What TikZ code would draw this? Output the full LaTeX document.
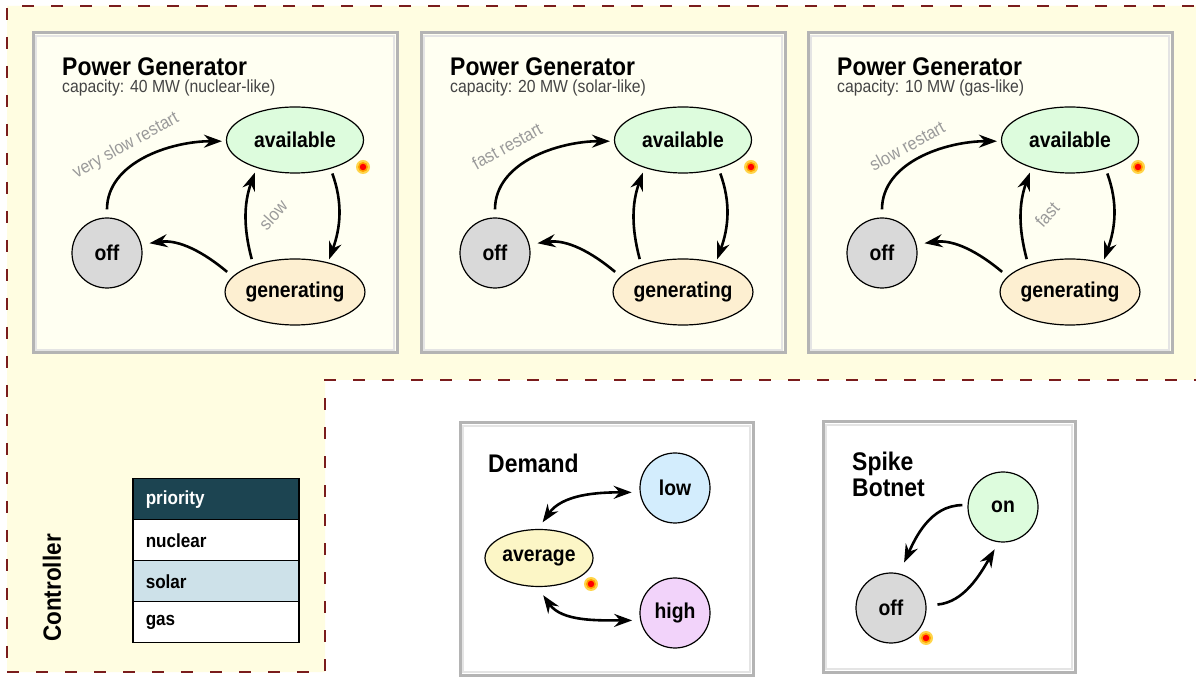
\documentclass[tikz,border=0pt]{standalone}
\usepackage{fontspec}
\setmainfont[FakeStretch=0.9]{Liberation Sans}
\usetikzlibrary{arrows.meta,shapes.geometric}
\definecolor{bgyellow}{HTML}{FFFDE1}
\definecolor{boxfill}{HTML}{FFFFF2}
\definecolor{boxouter}{HTML}{B4B4B4}
\definecolor{boxinner}{HTML}{E4E4E4}
\definecolor{availfill}{HTML}{DDFCDD}
\definecolor{genfill}{HTML}{FDEFD1}
\definecolor{offfill}{HTML}{D9D9D9}
\definecolor{lowfill}{HTML}{D3EDFD}
\definecolor{highfill}{HTML}{F2D3FA}
\definecolor{avgfill}{HTML}{FCF6C6}
\definecolor{dashred}{HTML}{7A1C1C}
\definecolor{lblgray}{HTML}{9A9A9A}
\definecolor{capgray}{HTML}{444444}
\definecolor{priodark}{HTML}{1C4451}
\definecolor{solarfill}{HTML}{CDE1E9}
\definecolor{dotyellow}{HTML}{FFD54A}
\definecolor{dotorange}{HTML}{FFA000}
\tikzset{
  boxo/.style={draw=boxouter, line width=3pt},
  boxi/.style={draw=boxinner, line width=2pt},
  title/.style={anchor=base west, inner sep=0pt, font=\bfseries\fontsize{25.5}{27}\selectfont},
  capt/.style={anchor=base west, inner sep=0pt, text=capgray, font=\fontsize{17.5}{20}\selectfont},
  st/.style={draw=black, line width=1.2pt, inner sep=0pt, font=\bfseries\fontsize{21.5}{24}\selectfont},
  ell/.style={st, ellipse, minimum width=137pt, minimum height=66pt},
  ellsm/.style={st, ellipse, minimum width=108pt, minimum height=57pt},
  circ/.style={st, circle, minimum size=70pt},
  tr/.style={-{Stealth[length=18pt,width=13pt,inset=6pt]}, line width=2.6pt},
  trb/.style={{Stealth[length=18pt,width=13pt,inset=6pt]}-{Stealth[length=18pt,width=13pt,inset=6pt]}, line width=2.6pt},
  lbl/.style={text=lblgray, inner sep=0pt, font=\fontsize{18}{20}\selectfont},
  cell/.style={draw=black, line width=1.5pt, anchor=north west, minimum height=41pt,
     text width=140pt, inner xsep=13pt, align=left, font=\bfseries\fontsize{19}{21}\selectfont},
  dotY/.style={circle, fill=dotyellow, minimum size=14pt, inner sep=0pt},
  dotO/.style={circle, fill=dotorange, minimum size=10pt, inner sep=0pt},
  dotR/.style={circle, fill=red, minimum size=6.5pt, inner sep=0pt},
}
\newcommand\hotdot[2]{%
  \node[dotY] (#1y) at (#2) {};
  \node[dotO] (#1o) at (#2) {};
  \node[dotR] (#1r) at (#2) {};}
\newcommand\powergen[7]{%
\begin{scope}[xshift=#2]
  \draw[boxo, fill=boxfill] (33,324) rectangle (397,644);
  \draw[boxi] (36,327) rectangle (394,641);
  \node[title] (#1title) at (62,601) {Power Generator};
  \node[capt] (#1cap) at (62,584) {#3};
  \node[ell, fill=availfill] (#1avail) at (295,537) {available};
  \node[ell, fill=genfill] (#1gen) at (295,385) {generating};
  \node[circ, fill=offfill] (#1off) at (107,424) {off};
  \draw[tr, shorten <=8pt, shorten >=4pt] (#1off.90) to[out=90,in=180] (#1avail.181);
  \draw[tr, shorten <=5pt, shorten >=3pt] (#1avail.-39) to[out=-70,in=70] (#1gen.42);
  \draw[tr, shorten <=6pt, shorten >=5pt] (#1gen.147) to[out=105,in=-110] (#1avail.216);
  \draw[tr, shorten <=7pt, shorten >=8pt] (#1gen.166) to[out=140,in=8] (#1off.14);
  \node[lbl, rotate=29] (#1la) at (#5,531) {#4};
  \node[lbl, rotate=48] (#1lb) at (#7,462) {#6};
  \hotdot{#1dot}{363,510}
\end{scope}}
\begin{document}
\begin{tikzpicture}[x=1pt,y=1pt]
\useasboundingbox (0,0) rectangle (1196,677);
\clip (0,0) rectangle (1196,677);
\fill[white] (0,0) rectangle (1196,677);
% controller region
\draw[dashred, line width=1.5pt, dash pattern=on 12pt off 17pt, fill=bgyellow]
  (7,5) -- (325,5) -- (325,297) -- (1210,297) -- (1210,671) -- (7,671) -- cycle;
\powergen{a}{0pt}{capacity: 40 MW (nuclear-like)}{very slow restart}{126}{slow}{273}
\powergen{b}{388pt}{capacity: 20 MW (solar-like)}{fast restart}{119}{}{272}
\powergen{c}{775pt}{capacity: 10 MW (gas-like)}{slow restart}{132}{fast}{272}
% controller
\node[font=\bfseries\fontsize{25}{27}\selectfont, rotate=90, inner sep=0pt] (ctrl) at (52,89) {Controller};
\node[cell, fill=priodark, text=white] (tprio) at (132,199) {priority};
\node[cell, fill=white] (tnuc) at (132,158) {nuclear};
\node[cell, fill=solarfill] (tsol) at (132,117) {solar};
\node[cell, fill=white] (tgas) at (132,76) {gas};
% demand
\draw[boxo, fill=white] (460,2) rectangle (753,254);
\draw[boxi] (463,5) rectangle (750,251);
\node[title] (dtitle) at (488,204) {Demand};
\node[circ, fill=lowfill] (low) at (675,189) {low};
\node[circ, fill=highfill] (high) at (675,64) {high};
\node[ellsm, fill=avgfill] (avg) at (539,119) {average};
\draw[trb, shorten <=8pt, shorten >=8pt] (avg.92) to[out=55,in=180] (low.187);
\draw[trb, shorten <=10pt, shorten >=8pt] (avg.-93) to[out=-55,in=180] (high.192);
\hotdot{ddot}{591,93}
% spike botnet
\draw[boxo, fill=white] (823,5) rectangle (1075,255);
\draw[boxi] (826,8) rectangle (1072,252);
\node[title] (stitle1) at (852,206) {Spike};
\node[title] (stitle2) at (852,180) {Botnet};
\node[circ, fill=availfill] (on) at (1003,170) {on};
\node[circ, fill=offfill] (soff) at (891,69) {off};
\draw[tr, shorten <=5pt, shorten >=12pt] (on.177) to[out=180,in=65] (soff.77);
\draw[tr, shorten <=11pt, shorten >=8pt] (soff.4) to[out=5,in=-120] (on.-97);
\hotdot{sdot}{926,39}
\end{tikzpicture}
\end{document}
